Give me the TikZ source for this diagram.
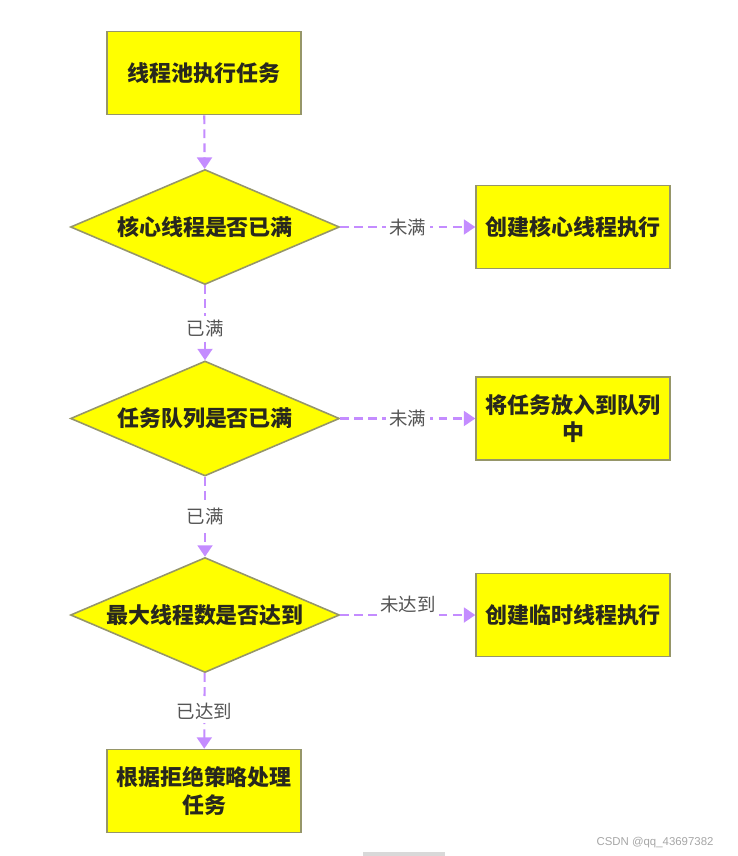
\documentclass[tikz,border=0pt]{standalone}
\usepackage{fontspec}
\setmainfont{Noto Sans CJK SC}[BoldFont={Noto Sans CJK SC Black}]
\setsansfont{Liberation Sans}
\usepackage{xcolor}
\usepackage{tikz}
\usetikzlibrary{arrows.meta, positioning, shapes.geometric}

\definecolor{boxfill}{RGB}{255,255,0}
\definecolor{boxline}{RGB}{150,150,105}
\definecolor{flow}{RGB}{196,140,255}
\definecolor{txt}{RGB}{40,40,30}
\definecolor{labtxt}{RGB}{85,85,85}

\begin{document}
\begin{tikzpicture}[
  proc/.style={draw=boxline, fill=boxfill, line width=0.9pt, minimum width=3.88cm,
               minimum height=1.66cm, align=center, text=txt,
               font=\fontsize{12.5}{15.5}\selectfont\bfseries},
  dec/.style={diamond, draw=boxline, fill=boxfill, line width=0.9pt, aspect=2.33,
              minimum width=5.38cm, minimum height=2.3cm, inner sep=0pt,
              text=txt, font=\fontsize{12.5}{15.5}\selectfont\bfseries},
  arr/.style={-{Triangle[length=6.5pt, width=8.5pt]}, flow, dashed,
              dash pattern=on 5pt off 3pt, line width=1.2pt},
  lab/.style={fill=white, text=labtxt, inner sep=2pt,
              font=\fontsize{10.5}{12}\selectfont},
]
\useasboundingbox (0, 0) rectangle (14.74, -17.12);

% ---- Main column ------------------------------------------------------------
\node[proc] (start) at (4.08, -1.46) {线程池执行任务};
\node[dec] (core) at (4.1, -4.54) {核心线程是否已满};
\node[dec] (queue) at (4.1, -8.37) {任务队列是否已满};
\node[dec] (maxth) at (4.1, -12.3) {最大线程数是否达到};
\node[proc] (reject) at (4.08, -15.82) {根据拒绝策略处理\\任务};

% ---- Right column -----------------------------------------------------------
\node[proc, right=2.7cm of core] (newcore) {创建核心线程执行};
\node[proc, right=2.7cm of queue] (enqueue) {将任务放入到队列\\中};
\node[proc, right=2.7cm of maxth] (newtemp) {创建临时线程执行};

% ---- Flow -------------------------------------------------------------------
\draw[arr] (start) -- (core);
\draw[arr] (core) -- node[lab, yshift=-3pt]{已满} (queue);
\draw[arr] (queue) -- node[lab]{已满} (maxth);
\draw[arr] (maxth) -- node[lab]{已达到} (reject);

\draw[arr] (core) -- node[lab]{未满} (newcore);
\draw[arr] (queue) -- node[lab]{未满} (enqueue);
\draw[arr] (maxth) -- node[lab, yshift=6pt]{未达到} (newtemp);

% ---- Watermark --------------------------------------------------------------
\node[font=\sffamily\fontsize{6.5}{8}\selectfont, text=black!35] (mark)
  at (13.1, -16.86) {CSDN @qq\_43697382};
\fill[black!15] (7.26, -17.04) rectangle (8.9, -17.12);

\end{tikzpicture}
\end{document}
